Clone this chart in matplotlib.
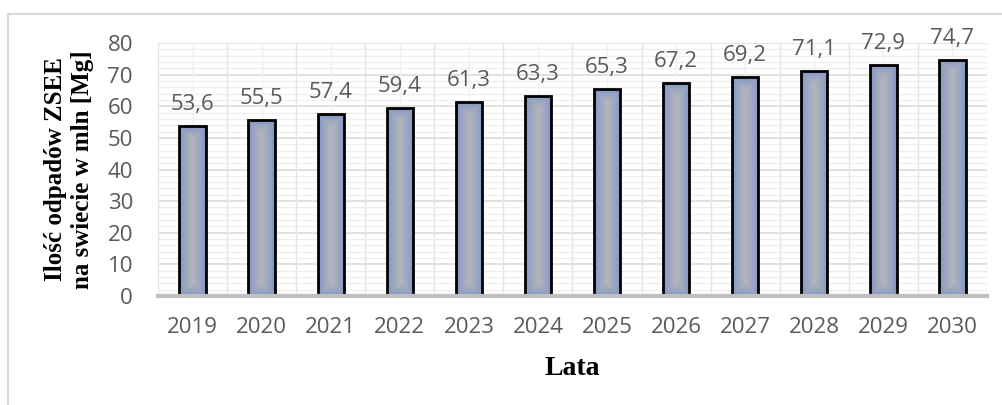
import matplotlib.pyplot as plt
import numpy as np
from matplotlib.patches import Rectangle
from matplotlib.ticker import MultipleLocator

years = ["2019", "2020", "2021", "2022", "2023", "2024",
         "2025", "2026", "2027", "2028", "2029", "2030"]
values = [53.6, 55.5, 57.4, 59.4, 61.3, 63.3, 65.3, 67.2, 69.2, 71.1, 72.9, 74.7]
labels = ["53,6", "55,5", "57,4", "59,4", "61,3", "63,3",
          "65,3", "67,2", "69,2", "71,1", "72,9", "74,7"]

TICK = "#595959"
SANS = "Open Sans"
SERIF = "Liberation Serif"

fig = plt.figure(figsize=(10.02, 4.05), dpi=100)
fig.patch.set_facecolor("white")
ax = fig.add_axes([158 / 1002, 1 - 296 / 405, (987 - 158) / 1002, (296 - 43) / 405])

# outer chart border
fig.add_artist(Rectangle((8 / 1002, -0.05), 1.2, 1 - 14 / 405 + 0.05,
                         transform=fig.transFigure, fill=False,
                         edgecolor="#d9d9d9", linewidth=1.5))

x = np.arange(len(years))
ax.set_xlim(-0.5, len(years) - 0.5)
ax.set_ylim(0, 80)

# gridlines
ax.yaxis.set_major_locator(MultipleLocator(10))
for yv in np.arange(2, 81, 2):
    major = yv % 10 == 0
    ax.axhline(yv, color="#dcdcdc" if major else "#efefef",
               lw=1.2 if major else 0.9, zorder=0)
for xv in np.arange(-0.5, len(years), 0.5):
    major = (xv + 0.5) % 1 == 0
    ax.axvline(xv, color="#e4e4e4" if major else "#f0f0f0",
               lw=1.0, zorder=0)

bars = ax.bar(x, values, width=0.38, color="none", edgecolor="black",
              linewidth=2.0, zorder=3)

# path-style gradient fill: blue at the edges, grey in the middle
edge_col = np.array([0x76, 0x8f, 0xc8]) / 255
mid_col = np.array([0xb3, 0xb5, 0xbc]) / 255
fig.canvas.draw()
for b in bars:
    x0, y0 = b.get_x(), b.get_y()
    w, h = b.get_width(), b.get_height()
    p0 = ax.transData.transform((x0, y0))
    p1 = ax.transData.transform((x0 + w, y0 + h))
    pw, ph = abs(p1[0] - p0[0]), abs(p1[1] - p0[1])
    nx, ny = max(int(pw), 2), max(int(ph), 2)
    GX, GY = np.meshgrid(np.linspace(0, pw, nx), np.linspace(0, ph, ny))
    d = np.minimum.reduce([GX, pw - GX, GY, ph - GY])
    t = np.clip(d / (pw / 2), 0, 1) ** 0.6
    img = edge_col[None, None, :] * (1 - t[..., None]) + mid_col[None, None, :] * t[..., None]
    im = ax.imshow(img, extent=(x0, x0 + w, y0, y0 + h), origin="lower",
                   aspect="auto", zorder=2, interpolation="bilinear")
    im.set_clip_path(b)
ax.set_xlim(-0.5, len(years) - 0.5)
ax.set_ylim(0, 80)

for xi, v, lab in zip(x, values, labels):
    ax.annotate(lab, (xi, v), xytext=(0, 8), textcoords="offset points",
                ha="center", va="bottom", fontsize=16, color=TICK,
                family=SANS)

for s in ["top", "right", "left"]:
    ax.spines[s].set_visible(False)
ax.spines["bottom"].set_color("#bfbfbf")
ax.spines["bottom"].set_linewidth(3)
ax.spines["bottom"].set_zorder(4)

ax.set_xticks(x)
ax.set_xticklabels(years)
ax.tick_params(axis="both", which="both", length=0, labelsize=16,
               labelcolor=TICK)
ax.tick_params(axis="x", pad=15)
ax.tick_params(axis="y", pad=18)
for t in ax.get_xticklabels() + ax.get_yticklabels():
    t.set_family(SANS)

ax.set_xlabel("Lata", fontsize=20, fontweight="bold", family=SERIF,
              labelpad=13)
ax.set_ylabel("Ilość odpadów ZSEE\nna swiecie w mln [Mg]", fontsize=18,
              fontweight="bold", family=SERIF, labelpad=10, linespacing=1.2)

fig.savefig("out.png", dpi=100, facecolor="white")
